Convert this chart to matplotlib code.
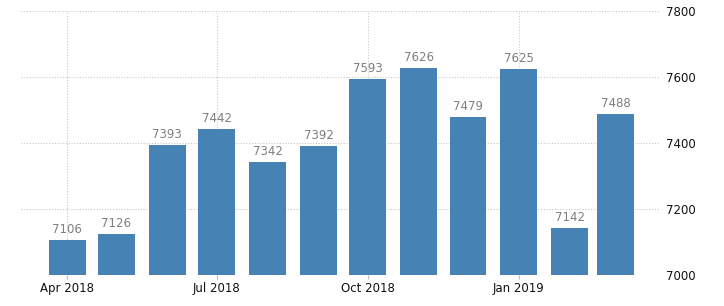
import datetime as dt
import matplotlib
matplotlib.use("Agg")
import matplotlib.pyplot as plt
import matplotlib.dates as mdates

# --- data ---
months = ["2018-04", "2018-05", "2018-06", "2018-07", "2018-08", "2018-09",
          "2018-10", "2018-11", "2018-12", "2019-01", "2019-02", "2019-03"]
values = [7106, 7126, 7393, 7442, 7342, 7392, 7593, 7626, 7479, 7625, 7142, 7488]
yticks = [7000, 7200, 7400, 7600, 7800]
xtick_months = ["2018-04", "2018-07", "2018-10", "2019-01"]

dates = [dt.datetime.strptime(m, "%Y-%m") for m in months]
xt = [dt.datetime.strptime(m, "%Y-%m") for m in xtick_months]

fig = plt.figure(figsize=(7.24, 3.06), dpi=100)
ax = fig.add_axes([0.029, 0.101, 0.883, 0.863])

ax.bar(dates, [v - 7000 for v in values], bottom=7000, width=22.5,
       color="#4682b4", zorder=3)

for d, v in zip(dates, values):
    ax.text(d, v + 12, str(v), ha="center", va="bottom",
            fontsize=8.5, color="#7f7f7f", zorder=4)

ax.set_ylim(7000, 7800)
ax.set_xlim(dt.datetime(2018, 3, 4), dt.datetime(2019, 3, 28))
ax.set_yticks(yticks)
ax.set_xticks(xt)
ax.xaxis.set_major_formatter(mdates.DateFormatter("%b %Y"))

ax.yaxis.tick_right()
ax.tick_params(axis="y", length=0, pad=4, labelsize=8.5, labelcolor="#111111")
ax.tick_params(axis="x", length=3, color="#bbbbbb", pad=2,
               labelsize=8.5, labelcolor="#111111")

ax.grid(True, color="#c8c8c8", linestyle=(0, (1, 1.5)), linewidth=0.8, zorder=0)
for s in ax.spines.values():
    s.set_visible(False)

fig.savefig("out.png", dpi=100)
